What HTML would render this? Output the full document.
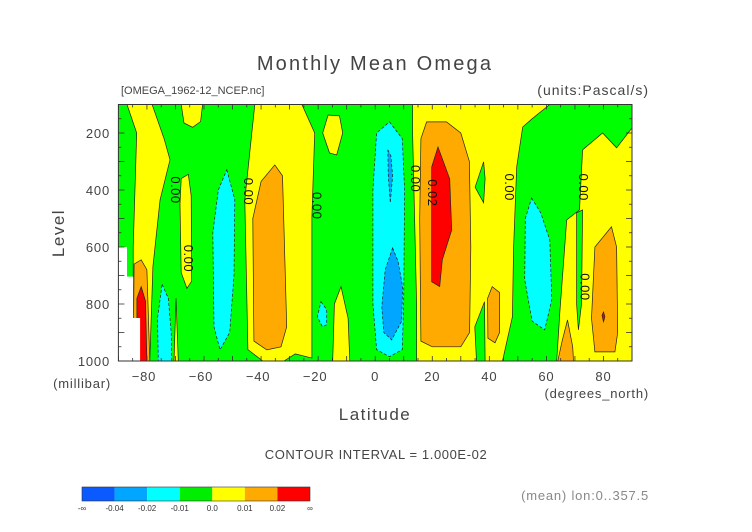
<!DOCTYPE html>
<html><head><meta charset="utf-8"><style>
html,body{margin:0;padding:0;background:#fff;}
svg{display:block;font-family:"Liberation Sans",sans-serif;}
</style></head><body>
<svg id="chart" width="752" height="532" viewBox="0 0 752 532" xmlns="http://www.w3.org/2000/svg">
<text x="375" y="70" font-size="20" fill="#444" text-anchor="middle" letter-spacing="2.2">Monthly Mean Omega</text>
<text x="121" y="94" font-size="11" fill="#444">[OMEGA_1962-12_NCEP.nc]</text>
<text x="649" y="95" font-size="14" fill="#444" text-anchor="end" letter-spacing="1">(units:Pascal/s)</text>
<g id="plot"></g>
<g id="axes"></g>
<text transform="translate(64,233) rotate(-90)" font-size="17" fill="#444" text-anchor="middle" letter-spacing="1.5">Level</text>
<text x="111" y="388" font-size="13" fill="#444" text-anchor="end" letter-spacing="0.8">(millibar)</text>
<text x="649" y="398" font-size="13" fill="#444" text-anchor="end" letter-spacing="0.8">(degrees_north)</text>
<text x="375" y="420" font-size="17" fill="#444" text-anchor="middle" letter-spacing="1.5">Latitude</text>
<text x="376" y="459" font-size="13" fill="#444" text-anchor="middle" letter-spacing="0.6">CONTOUR INTERVAL = 1.000E-02</text>
<text x="649" y="500" font-size="13" fill="#888" text-anchor="end" letter-spacing="0.8">(mean) lon:0..357.5</text>
<g id="cbar"></g>
</svg>
<script>
const latTicks = [-80,-60,-40,-20,0,20,40,60,80];
const levTicks = [200,400,600,800,1000];
const cbarLabels = ["-∞","-0.04","-0.02","-0.01","0.0","0.01","0.02","∞"];
const cbarColors = ["#0a5aff","#00a6ff","#00ffff","#00ee00","#ffff00","#ffaa00","#ff0000"];

const yellowRegions = [
 [[-87,100],[-78.2,100],[-74,220],[-71.9,294],[-75.4,434],[-77.9,669],[-79,1000],[-84.8,1000],[-84.8,600],[-83.6,200]],
 [[-70.5,1000],[-69.8,780],[-69,1000]],
 [[-68,360],[-65.5,345],[-64.5,420],[-64.3,720],[-66,745],[-68,690],[-68.4,450]],
 [[-68,100],[-60.5,100],[-61.2,160],[-64,180],[-67,165]],
 [[-42.2,100],[-25.7,100],[-21.2,200],[-22.2,494],[-22.2,990],[-28,975],[-32,1000],[-39.4,1000],[-44.6,960],[-45.7,434]],
 [[-16.5,137],[-12.5,140],[-11.4,200],[-13.5,277],[-16,270],[-18.4,200]],
 [[-14.9,1000],[-14.3,800],[-12,739],[-9.5,850],[-8.9,1000]],
 [[13.1,100],[61.2,100],[55,150],[51.7,179],[49.6,319],[48.5,600],[48.1,845],[44.6,1000],[14.5,1000],[14.5,800],[13.1,200]],
 [[90,182],[84.6,252],[79.7,200],[72.7,259],[71.6,470],[67.1,505],[64.7,831],[63.6,1000],[90,1000]]
];
const greenRegions = [
 [[70.6,480],[72.7,470],[72.3,800],[71.2,891],[70.6,800]],
 [[38,301],[38.5,360],[38,445],[35,390]],
 [[38.3,792],[38.5,1000],[35.5,1000],[34.9,880]]
];
const orangeRegions = [
 [[-84.8,1000],[-84.5,660],[-82,645],[-80,680],[-79,1000]],
 [[-35.2,312],[-32.5,350],[-31.5,700],[-31,880],[-33,950],[-38,961],[-42.5,930],[-42.9,500],[-40,370]],
 [[18,161],[25,161],[30,200],[33,300],[33.5,600],[33.1,900],[30,950],[20,950],[16,930],[15.6,500],[16,220]],
 [[41,739],[43.6,760],[43.6,900],[42,936],[39.5,920],[39.4,780]],
 [[82.8,529],[84.6,600],[85,900],[84,968],[77,968],[75.8,850],[77,600]],
 [[67.4,856],[69.2,950],[69.5,1000],[64,1000],[65.5,930]]
];
const redRegions = [
 [[-83.5,1000],[-83.5,780],[-82,739],[-80.5,790],[-80,1000]],
 [[22,249],[26.1,361],[26.8,540],[23.5,645],[22.6,739],[19.8,722],[19.8,500],[19.8,319]],
 [[79.5,840],[80,828],[80.5,845],[80,862]]
];
const cyanRegions = [
 [[-74.7,731],[-72.5,780],[-71.5,900],[-71.3,1000],[-76,1000],[-76.3,850]],
 [[-52,329],[-49.2,434],[-49.5,700],[-51,900],[-54.4,961],[-56.5,880],[-56.9,550],[-55,400]],
 [[-19,792],[-17,820],[-17,873],[-18.5,880],[-20.3,845]],
 [[5,161],[9.5,220],[10.3,400],[10,800],[9.5,960],[5,985],[0.5,960],[-0.8,800],[-0.8,400],[0.5,200]],
 [[54.8,428],[58,480],[61.2,575],[61.9,785],[59.4,891],[55,860],[52.4,715],[52.6,500]]
];
const blueRegions = [
 [[4.4,259],[5.5,280],[6.1,350],[5.3,445],[4.6,350]],
 [[6.1,603],[8,650],[9.6,739],[9.3,860],[5.8,926],[3,900],[2.3,810],[3.5,680]]
];
const missingRegion = [[-90,600],[-87,600],[-87,704],[-84.8,704],[-84.8,849],[-82.4,849],[-82.4,1000],[-90,1000]];
const contourLabels = [["0.00",-71.5,400],["0.00",-67,640],["0.00",-46,405],["0.00",-22,455],["0.00",12.5,360],["0.02",18.5,410],["0.00",45.5,390],["0.00",71.5,390],["0.00",72,740]];

const X0=118.4,X1=632,Y0=104.5,Y1=361;
function xs(lat){return X0+(lat+90)/180*(X1-X0);}
function ys(lev){return Y0+(lev-100)/900*(Y1-Y0);}
const NS="http://www.w3.org/2000/svg";
function mk(tag,attrs,parent){const e=document.createElementNS(NS,tag);for(const k in attrs)e.setAttribute(k,attrs[k]);parent.appendChild(e);return e;}
const plot=document.getElementById('plot');
const bg=mk('rect',{x:X0,y:Y0,width:X1-X0,height:Y1-Y0,fill:'#00ff00'},plot);


function pts(p){return p.map(q=>xs(q[0]).toFixed(1)+','+ys(q[1]).toFixed(1)).join(' ');}
function drawSet(set,fill,name,dash){
 set.forEach((p,i)=>{
  const e=mk('polygon',{points:pts(p),fill:fill,stroke:'#222','stroke-width':0.7},plot);
  if(dash)e.setAttribute('stroke-dasharray','3,2');
  
  
 });
}
drawSet(yellowRegions,'#ffff00','yellow-region',false);
drawSet(greenRegions,'#00ff00','green-region',false);
drawSet(orangeRegions,'#ffaa00','orange-region',false);
drawSet(redRegions,'#ff0000','red-region',false);
drawSet(cyanRegions,'#00ffff','cyan-region',true);
drawSet(blueRegions,'#00a6ff','blue-region',true);
const ms=mk('polygon',{points:pts(missingRegion),fill:'#fff'},plot);


contourLabels.forEach(c=>{
 const t=mk('text',{x:0,y:0,'font-size':13,fill:'#111','text-anchor':'middle','letter-spacing':0.5,transform:'translate('+xs(c[1])+','+ys(c[2])+') rotate(90)'},plot);
 t.textContent=c[0];
 
 
});
const axes=document.getElementById('axes');
const fr=mk('rect',{x:X0,y:Y0,width:X1-X0,height:Y1-Y0,fill:'none',stroke:'#333','stroke-width':1},axes);


for(let lat=-90;lat<=90;lat+=5){
 const x=xs(lat),L=(lat%10===0)?5:3;
 mk('line',{x1:x,y1:Y1,x2:x,y2:Y1-L,stroke:'#333','stroke-width':0.8},axes);
 mk('line',{x1:x,y1:Y0,x2:x,y2:Y0+L,stroke:'#333','stroke-width':0.8},axes);
}
for(let lev=100;lev<=1000;lev+=50){
 const y=ys(lev),L=(lev%100===0)?6:3;
 mk('line',{x1:X0,y1:y,x2:X0+L,y2:y,stroke:'#333','stroke-width':0.8},axes);
 mk('line',{x1:X1,y1:y,x2:X1-L,y2:y,stroke:'#333','stroke-width':0.8},axes);
}
latTicks.forEach(v=>{
 const t=mk('text',{x:xs(v)-(v<0?3:0),y:381,'font-size':13,fill:'#444','text-anchor':'middle','letter-spacing':0.8},axes);
 t.textContent=(v<0?'−':'')+Math.abs(v);
 
 
});
levTicks.forEach(v=>{
 const t=mk('text',{x:110,y:ys(v)+5,'font-size':13,fill:'#444','text-anchor':'end','letter-spacing':0.8},axes);
 t.textContent=v;
 
 
});
const cb=document.getElementById('cbar');
const CX=82,CW=228/7;
cbarColors.forEach((c,i)=>{
 const r=mk('rect',{x:CX+i*CW,y:487,width:CW,height:14,fill:c},cb);
 
 
});
mk('rect',{x:CX,y:487,width:228,height:14,fill:'none',stroke:'#333','stroke-width':0.6},cb);
cbarLabels.forEach((l,i)=>{
 const t=mk('text',{x:CX+i*CW,y:511,'font-size':8,fill:'#333','text-anchor':'middle'},cb);
 t.textContent=l;
 
 
});
</script>
</body></html>
